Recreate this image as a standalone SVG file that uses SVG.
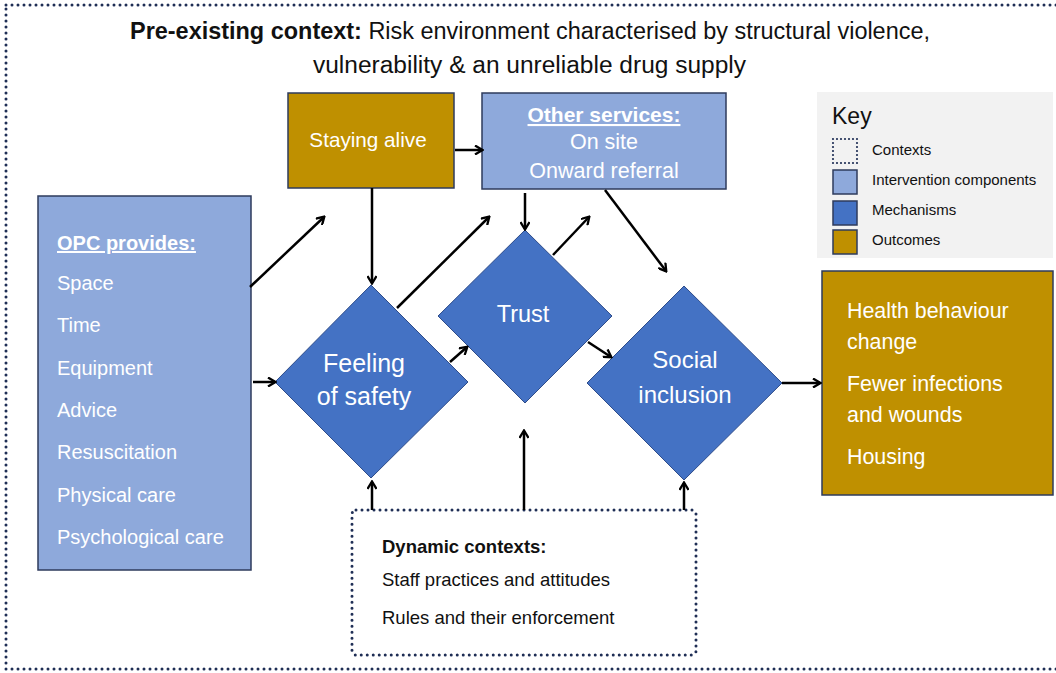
<svg xmlns="http://www.w3.org/2000/svg" width="1056" height="673" viewBox="0 0 1056 673">
<style>
text{font-family:"Liberation Sans",Arial,sans-serif;}
.dotted{fill:none;stroke:#1F2E55;stroke-width:3;stroke-linecap:round;stroke-dasharray:0 6;}
.comp{fill:#8EA9DB;stroke:#2E3B5C;stroke-width:1.5;}
.mech{fill:#4472C4;stroke:#2E4C8A;stroke-width:1;}
.out{fill:#BF9000;stroke:#2E3B5C;stroke-width:1.5;}
.wt{fill:#FFFFFF;}
.dk{fill:#111111;}
.arr{fill:none;stroke:#000;stroke-width:2.5;marker-end:url(#ah);}
</style>
<defs>
<marker id="ah" markerWidth="10" markerHeight="10" refX="8" refY="5" orient="auto" markerUnits="userSpaceOnUse">
<path d="M1,0.5 L8.5,5 L1,9.5" fill="none" stroke="#000" stroke-width="2.3"/>
</marker>
</defs>
<rect width="1056" height="673" fill="#FFFFFF"/>

<g id="pre-existing-context">
<rect class="dotted" x="6" y="5" width="1060" height="664"/>
<text x="130" y="39" font-size="23" textLength="800" lengthAdjust="spacingAndGlyphs" class="dk"><tspan font-weight="bold">Pre-existing context:</tspan> Risk environment characterised by structural violence,</text>
<text x="313" y="73" font-size="23.5" textLength="433" lengthAdjust="spacingAndGlyphs" class="dk">vulnerability &amp; an unreliable drug supply</text>
</g>

<g id="key">
<rect x="817" y="92" width="236" height="166" fill="#F2F2F2"/>
<text x="832" y="124" font-size="23" class="dk">Key</text>
<rect x="833" y="139" width="24" height="24" fill="none" stroke="#1F2E55" stroke-width="2.2" stroke-linecap="round" stroke-dasharray="0 4"/>
<text x="872" y="155" font-size="15" class="dk">Contexts</text>
<rect x="833" y="170" width="24" height="24" class="comp"/>
<text x="872" y="185" font-size="15" class="dk">Intervention components</text>
<rect x="833" y="201" width="24" height="24" fill="#4472C4" stroke="#2E3B5C" stroke-width="1.5"/>
<text x="872" y="215" font-size="15" class="dk">Mechanisms</text>
<rect x="833" y="230" width="24" height="24" class="out"/>
<text x="872" y="245" font-size="15" class="dk">Outcomes</text>
</g>

<g id="opc-provides">
<rect x="38" y="196" width="213" height="374" class="comp"/>
<text x="57" y="250" font-size="20" font-weight="bold" class="wt" text-decoration="underline">OPC provides:</text>
<text x="57" y="290" font-size="20" class="wt">Space</text>
<text x="57" y="332" font-size="20" class="wt">Time</text>
<text x="57" y="375" font-size="20" class="wt">Equipment</text>
<text x="57" y="417" font-size="20" class="wt">Advice</text>
<text x="57" y="459" font-size="20" class="wt">Resuscitation</text>
<text x="57" y="502" font-size="20" class="wt">Physical care</text>
<text x="57" y="544" font-size="20" class="wt">Psychological care</text>
</g>

<g id="staying-alive">
<rect x="288" y="93" width="166" height="95" class="out"/>
<text x="368" y="147" font-size="20.7" text-anchor="middle" class="wt">Staying alive</text>
</g>

<g id="other-services">
<rect x="482" y="93" width="244" height="96" class="comp"/>
<text x="604" y="122" font-size="21" font-weight="bold" text-anchor="middle" class="wt" text-decoration="underline">Other services:</text>
<text x="604" y="149" font-size="21.5" text-anchor="middle" class="wt">On site</text>
<text x="604" y="178" font-size="21.5" text-anchor="middle" class="wt">Onward referral</text>
</g>

<g id="feeling-of-safety">
<polygon points="371,285 468,382 371,478 275,382" class="mech"/>
<text x="364" y="372" font-size="25" text-anchor="middle" class="wt">Feeling</text>
<text x="364" y="405" font-size="25" text-anchor="middle" class="wt">of safety</text>
</g>

<g id="trust">
<polygon points="525,230 612,316 525,403 438,316" class="mech"/>
<text x="523" y="322" font-size="23.5" text-anchor="middle" class="wt">Trust</text>
</g>

<g id="social-inclusion">
<polygon points="684,286 782,383 684,480 587,383" class="mech"/>
<text x="685" y="368" font-size="24" text-anchor="middle" class="wt">Social</text>
<text x="685" y="403" font-size="24" text-anchor="middle" class="wt">inclusion</text>
</g>

<g id="outcomes">
<rect x="822" y="271" width="231" height="224" class="out"/>
<text x="847" y="318" font-size="21.4" class="wt">Health behaviour</text>
<text x="847" y="349" font-size="21.4" class="wt">change</text>
<text x="847" y="391" font-size="21.4" class="wt">Fewer infections</text>
<text x="847" y="422" font-size="21.4" class="wt">and wounds</text>
<text x="847" y="464" font-size="21.4" class="wt">Housing</text>
</g>

<g id="dynamic-contexts">
<rect class="dotted" x="352" y="510" width="344" height="145" rx="4"/>
<text x="382" y="553" font-size="18.5" font-weight="bold" class="dk">Dynamic contexts:</text>
<text x="382" y="586" font-size="18.5" class="dk">Staff practices and attitudes</text>
<text x="382" y="624" font-size="18.5" class="dk">Rules and their enforcement</text>
</g>

<g id="connectors">
<line class="arr" x1="250" y1="287" x2="324" y2="217"/>
<line class="arr" x1="253" y1="382" x2="275" y2="382"/>
<line class="arr" x1="372" y1="188" x2="372" y2="283"/>
<line class="arr" x1="397" y1="308" x2="489" y2="217"/>
<line class="arr" x1="450" y1="362" x2="467" y2="347"/>
<line class="arr" x1="455" y1="150" x2="482" y2="150"/>
<line class="arr" x1="525" y1="193" x2="525" y2="229"/>
<line class="arr" x1="553" y1="255" x2="589" y2="217"/>
<line class="arr" x1="605" y1="190" x2="666" y2="271"/>
<line class="arr" x1="588" y1="342" x2="611" y2="357"/>
<line class="arr" x1="782" y1="383" x2="820" y2="383"/>
<line class="arr" x1="372" y1="510" x2="372" y2="482"/>
<line class="arr" x1="524" y1="510" x2="524" y2="431"/>
<line class="arr" x1="684" y1="510" x2="684" y2="483"/>
</g>
</svg>
